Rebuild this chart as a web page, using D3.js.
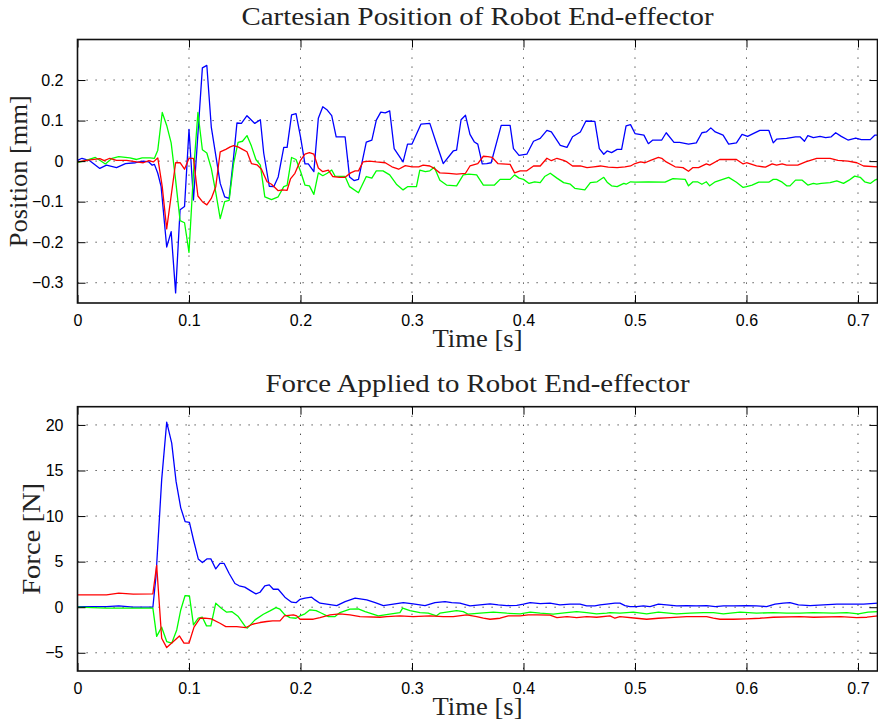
<!DOCTYPE html>
<html>
<head>
<meta charset="utf-8">
<script src="https://cdn.jsdelivr.net/npm/d3@7"></script>
<style>
  html, body { margin: 0; padding: 0; background: #fff; }
  svg { display: block; }
  .tick-label { font-family: "Liberation Sans", Arial, sans-serif; font-size: 16px; fill: #000; }
  .serif { font-family: "Liberation Serif", "Times New Roman", serif; fill: #222; }
</style>
</head>
<body>
<svg id="chart" width="878" height="721"></svg>
<script>
// End-effector position (mm) per Cartesian axis: [time s, value]
const posX = [
  [0,0.002],[0.004,0.007],[0.011,0.001],[0.020,-0.018],[0.026,-0.010],[0.035,-0.016],[0.043,-0.006],
  [0.052,-0.004],[0.059,0],[0.064,-0.002],[0.067,-0.010],[0.069,-0.008],[0.072,-0.030],[0.075,-0.063],
  [0.080,-0.212],[0.084,-0.174],[0.088,-0.325],[0.092,-0.120],[0.096,-0.112],[0.100,0.078],[0.104,-0.096],
  [0.112,0.230],[0.116,0.236],[0.120,0.084],[0.128,-0.055],[0.132,-0.088],[0.136,-0.092],[0.140,0.010],
  [0.143,0.094],[0.147,0.093],[0.152,0.112],[0.159,0.093],[0.164,0.102],[0.167,0.020],[0.172,-0.062],
  [0.176,-0.063],[0.180,-0.039],[0.185,0.034],[0.188,0.034],[0.192,0.114],[0.196,0.117],[0.200,0.060],
  [0.204,-0.007],[0.207,-0.007],[0.212,-0.026],[0.216,0.106],[0.220,0.134],[0.224,0.126],[0.228,0.112],
  [0.232,0.060],[0.240,0.060],[0.244,-0.039],[0.248,-0.048],[0.252,-0.045],[0.259,0.047],[0.264,0.052],
  [0.268,0.101],[0.272,0.121],[0.276,0.119],[0.280,0.124],[0.284,0.031],[0.292,-0.002],[0.296,0.042],
  [0.300,0.042],[0.308,0.091],[0.316,0.093],[0.322,0.043],[0.328,-0.006],[0.337,0.025],[0.340,0.027],
  [0.344,0.102],[0.348,0.113],[0.352,0.066],[0.356,0.047],[0.359,0.042],[0.363,-0.007],[0.367,-0.006],
  [0.371,-0.004],[0.380,0.088],[0.388,0.088],[0.391,0.031],[0.396,0.014],[0.403,0.017],[0.409,0.049],
  [0.415,0.056],[0.421,0.076],[0.425,0.072],[0.433,0.039],[0.439,0.034],[0.444,0.060],[0.451,0.072],
  [0.456,0.099],[0.464,0.098],[0.468,0.031],[0.472,0.017],[0.475,0.025],[0.479,0.021],[0.484,0.029],
  [0.488,0.029],[0.492,0.087],[0.496,0.090],[0.500,0.068],[0.508,0.064],[0.512,0.043],[0.516,0.052],
  [0.524,0.052],[0.528,0.070],[0.535,0.046],[0.540,0.046],[0.548,0.042],[0.555,0.045],[0.560,0.070],
  [0.564,0.072],[0.568,0.082],[0.572,0.072],[0.579,0.064],[0.584,0.042],[0.591,0.045],[0.596,0.066],
  [0.601,0.061],[0.606,0.068],[0.612,0.076],[0.620,0.076],[0.624,0.045],[0.627,0.054],[0.636,0.056],
  [0.644,0.060],[0.648,0.060],[0.652,0.049],[0.655,0.063],[0.660,0.058],[0.666,0.061],[0.671,0.058],
  [0.676,0.060],[0.680,0.070],[0.685,0.061],[0.691,0.052],[0.698,0.057],[0.703,0.053],[0.711,0.053],
  [0.715,0.064],[0.718,0.064]
];
const posY = [
  [0,-0.004],[0.007,0.001],[0.016,0.009],[0.020,0.002],[0.025,-0.007],[0.031,0.007],[0.037,0.011],
  [0.047,0.008],[0.053,0.004],[0.058,0.008],[0.065,0.008],[0.069,0.007],[0.072,0.027],[0.076,0.120],
  [0.080,0.088],[0.084,0.045],[0.088,-0.047],[0.092,-0.147],[0.096,-0.152],[0.100,-0.225],[0.104,-0.030],
  [0.108,0.120],[0.112,0.028],[0.116,0.020],[0.120,-0.018],[0.124,-0.077],[0.128,-0.142],[0.132,-0.100],
  [0.136,-0.097],[0.140,-0.006],[0.144,0.046],[0.148,0.049],[0.152,0.063],[0.156,0.037],[0.160,0.004],
  [0.164,-0.010],[0.168,-0.088],[0.174,-0.095],[0.180,-0.088],[0.185,-0.063],[0.188,-0.060],[0.192,0.009],
  [0.196,0.004],[0.200,-0.025],[0.204,-0.059],[0.208,-0.061],[0.212,-0.082],[0.216,-0.029],[0.220,-0.036],
  [0.224,-0.030],[0.228,-0.022],[0.231,-0.037],[0.240,-0.038],[0.244,-0.063],[0.252,-0.078],[0.259,-0.038],
  [0.264,-0.042],[0.268,-0.024],[0.274,-0.024],[0.280,-0.034],[0.286,-0.057],[0.292,-0.071],[0.296,-0.063],
  [0.304,-0.063],[0.307,-0.022],[0.312,-0.026],[0.316,-0.024],[0.320,-0.015],[0.325,-0.047],[0.331,-0.059],
  [0.340,-0.061],[0.346,-0.034],[0.351,-0.032],[0.358,-0.034],[0.364,-0.059],[0.374,-0.059],[0.379,-0.045],
  [0.388,-0.045],[0.392,-0.034],[0.396,-0.042],[0.400,-0.045],[0.405,-0.055],[0.410,-0.051],[0.415,-0.053],
  [0.419,-0.038],[0.424,-0.030],[0.430,-0.042],[0.436,-0.053],[0.442,-0.057],[0.446,-0.067],[0.455,-0.071],
  [0.460,-0.053],[0.466,-0.051],[0.472,-0.040],[0.475,-0.052],[0.479,-0.061],[0.484,-0.063],[0.490,-0.055],
  [0.492,-0.057],[0.496,-0.051],[0.500,-0.052],[0.512,-0.051],[0.527,-0.052],[0.534,-0.043],[0.545,-0.045],
  [0.548,-0.061],[0.552,-0.051],[0.556,-0.051],[0.560,-0.057],[0.564,-0.051],[0.567,-0.061],[0.572,-0.051],
  [0.584,-0.040],[0.591,-0.052],[0.597,-0.065],[0.600,-0.063],[0.605,-0.059],[0.611,-0.052],[0.620,-0.052],
  [0.624,-0.045],[0.627,-0.045],[0.632,-0.052],[0.636,-0.061],[0.639,-0.061],[0.644,-0.047],[0.650,-0.047],
  [0.655,-0.059],[0.660,-0.055],[0.663,-0.057],[0.667,-0.055],[0.675,-0.053],[0.681,-0.049],[0.687,-0.055],
  [0.692,-0.047],[0.697,-0.037],[0.702,-0.040],[0.706,-0.051],[0.711,-0.055],[0.715,-0.047],[0.718,-0.044]
];
const posZ = [
  [0,-0.002],[0.008,0.002],[0.020,0.006],[0.024,0.001],[0.029,0.007],[0.035,0.002],[0.044,0.002],
  [0.053,-0.002],[0.059,-0.004],[0.064,0.001],[0.068,-0.002],[0.072,0.008],[0.076,-0.063],[0.080,-0.167],
  [0.088,-0.004],[0.092,-0.004],[0.096,-0.020],[0.100,0.007],[0.104,0.007],[0.108,-0.086],[0.112,-0.100],
  [0.116,-0.108],[0.120,-0.092],[0.124,-0.063],[0.128,0.023],[0.133,0.029],[0.137,0.035],[0.140,0.038],
  [0.144,0.035],[0.148,0.029],[0.152,0.023],[0.156,-0.006],[0.161,-0.009],[0.165,-0.020],[0.170,-0.051],
  [0.174,-0.057],[0.180,-0.073],[0.184,-0.071],[0.188,-0.072],[0.191,-0.044],[0.195,-0.030],[0.200,0.002],
  [0.204,0.017],[0.208,0.021],[0.212,0.017],[0.216,-0.017],[0.220,-0.026],[0.225,-0.022],[0.229,-0.038],
  [0.235,-0.040],[0.240,-0.040],[0.245,-0.029],[0.249,-0.024],[0.252,-0.024],[0.256,-0.002],[0.262,0],
  [0.268,-0.002],[0.276,-0.004],[0.282,-0.014],[0.288,-0.020],[0.294,-0.011],[0.300,-0.014],[0.306,-0.014],
  [0.310,-0.010],[0.316,-0.012],[0.320,-0.018],[0.325,-0.029],[0.333,-0.030],[0.340,-0.032],[0.348,-0.030],
  [0.352,-0.012],[0.359,-0.006],[0.364,0.012],[0.368,0.011],[0.372,0.009],[0.377,-0.006],[0.388,-0.008],
  [0.392,-0.029],[0.397,-0.024],[0.403,-0.024],[0.409,-0.012],[0.415,-0.012],[0.421,0.007],[0.425,0.001],
  [0.430,0.007],[0.436,0.002],[0.439,-0.002],[0.444,-0.012],[0.451,-0.012],[0.457,-0.016],[0.463,-0.014],
  [0.469,-0.012],[0.476,-0.015],[0.484,-0.016],[0.491,-0.014],[0.496,-0.012],[0.500,-0.006],[0.505,-0.002],
  [0.509,-0.004],[0.514,0.002],[0.521,0.009],[0.524,0.007],[0.528,-0.002],[0.536,-0.014],[0.543,-0.016],
  [0.548,-0.025],[0.552,-0.016],[0.557,-0.016],[0.564,-0.007],[0.567,-0.010],[0.576,0.004],[0.582,0.004],
  [0.591,0.004],[0.597,-0.007],[0.600,-0.004],[0.609,-0.012],[0.617,-0.015],[0.623,-0.007],[0.627,-0.010],
  [0.632,-0.007],[0.636,-0.010],[0.646,-0.010],[0.653,-0.002],[0.663,0.007],[0.675,0.007],[0.682,0.002],
  [0.691,0],[0.699,-0.004],[0.705,-0.012],[0.718,-0.014]
];

// Contact force (N) per Cartesian axis: [time s, value]
const forceX = [
  [0,0.07],[0.026,0.07],[0.037,0.15],[0.050,0],[0.0676,0],[0.0704,3.4],[0.0755,14.0],[0.080,20.3],
  [0.0845,18.0],[0.0884,13.8],[0.0926,10.9],[0.0965,9.4],[0.1004,9.3],[0.104,7.4],[0.1083,5.3],[0.112,4.9],
  [0.116,5.3],[0.1196,5.3],[0.124,4.2],[0.1278,4.8],[0.1315,4.8],[0.136,3.7],[0.1412,2.6],[0.145,2.35],
  [0.150,2.2],[0.1547,1.85],[0.160,1.46],[0.1637,1.64],[0.168,2.34],[0.172,2.45],[0.1756,1.97],[0.180,1.97],
  [0.186,1.1],[0.192,0.55],[0.196,0.5],[0.1996,0.87],[0.204,0.99],[0.210,1.1],[0.213,0.8],[0.2175,0.44],
  [0.2235,0.33],[0.2325,0.18],[0.240,0.62],[0.249,0.99],[0.2594,0.8],[0.267,0.5],[0.2743,0.18],[0.2833,0.33],
  [0.2922,0.5],[0.301,0.36],[0.3117,0.18],[0.3206,0.5],[0.3296,0.62],[0.3356,0.5],[0.343,0.44],[0.352,0.14],
  [0.361,0.25],[0.370,0.36],[0.3774,0.25],[0.385,0.18],[0.394,0.21],[0.400,0.33],[0.406,0.5],[0.415,0.4],
  [0.4238,0.44],[0.4327,0.25],[0.4417,0.33],[0.4507,0.33],[0.4567,0.14],[0.464,0.14],[0.4686,0.25],
  [0.4746,0.33],[0.482,0.44],[0.4865,0.44],[0.491,0.18],[0.4955,0.07],[0.5015,0.07],[0.5075,0.14],
  [0.5135,0.07],[0.521,0.33],[0.5284,0.25],[0.5374,0.14],[0.5463,0.18],[0.555,0.14],[0.5643,0.18],
  [0.572,0.07],[0.5793,0.14],[0.5882,0.14],[0.600,0.18],[0.609,0.14],[0.618,0.07],[0.6256,0.33],
  [0.633,0.44],[0.639,0.5],[0.6465,0.25],[0.657,0.18],[0.669,0.25],[0.681,0.33],[0.6928,0.33],
  [0.705,0.33],[0.718,0.44]
];
const forceY = [
  [0,0],[0.026,-0.1],[0.050,-0.1],[0.0676,-0.1],[0.071,-3.2],[0.0755,-2.19],[0.080,-3.77],[0.0845,-3.95],
  [0.089,-2.49],[0.0926,-0.3],[0.0965,1.28],[0.1004,1.24],[0.104,-1.94],[0.1083,-1.21],[0.112,-1.1],
  [0.1157,-2.05],[0.1196,-2.05],[0.124,0.44],[0.129,-0.11],[0.1338,-0.55],[0.1383,-0.48],[0.1442,-1.03],
  [0.151,-2.2],[0.1523,-2.3],[0.1592,-1.39],[0.1667,-0.77],[0.1726,-0.4],[0.178,-0.04],[0.1816,-0.22],
  [0.186,-0.84],[0.1906,-1.14],[0.196,-1.21],[0.1996,-0.95],[0.204,-0.73],[0.2085,-0.29],[0.214,-0.37],
  [0.219,-0.66],[0.225,-1.03],[0.231,-1.03],[0.2354,-0.59],[0.2444,-0.22],[0.2518,-0.18],[0.258,-0.48],
  [0.2698,-0.95],[0.280,-0.77],[0.2892,-0.59],[0.2916,-0.11],[0.2982,-0.37],[0.3072,-0.59],[0.3146,-0.66],
  [0.322,-0.95],[0.325,-0.66],[0.334,-0.48],[0.340,-0.37],[0.346,-0.48],[0.3505,-0.77],[0.361,-0.66],
  [0.373,-0.55],[0.385,-0.66],[0.397,-0.73],[0.406,-0.55],[0.415,-0.66],[0.4267,-0.77],[0.4387,-0.59],
  [0.4477,-0.48],[0.4567,-0.59],[0.4656,-0.73],[0.4746,-0.66],[0.4776,-0.59],[0.4865,-0.66],[0.4985,-0.55],
  [0.5105,-0.73],[0.521,-0.55],[0.5374,-0.73],[0.5493,-0.66],[0.5613,-0.59],[0.5703,-0.59],[0.5793,-0.73],
  [0.5942,-0.55],[0.609,-0.66],[0.624,-0.59],[0.636,-0.66],[0.648,-0.66],[0.660,-0.59],[0.678,-0.66],
  [0.690,-0.59],[0.7003,-0.73],[0.709,-0.55],[0.718,-0.48]
];
const forceZ = [
  [0,1.35],[0.026,1.35],[0.037,1.54],[0.050,1.43],[0.0676,1.46],[0.071,4.6],[0.0755,-3.4],[0.080,-4.43],
  [0.086,-3.77],[0.0914,-3.15],[0.0955,-3.95],[0.100,-3.95],[0.1045,-2.19],[0.110,-1.21],[0.1143,-1.2],
  [0.120,-1.28],[0.1278,-1.76],[0.133,-2.13],[0.1428,-2.13],[0.151,-2.23],[0.157,-1.87],[0.1637,-1.68],
  [0.1697,-1.57],[0.175,-1.5],[0.1816,-1.5],[0.1855,-0.95],[0.1936,-0.84],[0.1966,-0.95],[0.1996,-1.32],
  [0.2115,-1.32],[0.2175,-1.14],[0.2265,-0.84],[0.2354,-0.73],[0.2444,-0.84],[0.2534,-1.03],[0.2713,-1.1],
  [0.2773,-1.03],[0.2892,-0.95],[0.301,-1.03],[0.316,-0.95],[0.328,-1.03],[0.337,-1.03],[0.349,-0.84],
  [0.358,-1.03],[0.364,-1.21],[0.370,-1.32],[0.379,-1.21],[0.3864,-0.95],[0.397,-0.95],[0.4043,-0.84],
  [0.412,-0.84],[0.4238,-0.88],[0.430,-1.14],[0.439,-1.03],[0.4477,-1.14],[0.4567,-1.03],[0.4656,-1.1],
  [0.4776,-0.95],[0.482,-1.21],[0.4865,-1.03],[0.5015,-1.21],[0.5105,-1.32],[0.521,-1.21],[0.5314,-1.14],
  [0.5463,-1.03],[0.5643,-1.03],[0.5703,-1.21],[0.5762,-1.32],[0.5882,-1.32],[0.600,-1.28],[0.612,-1.21],
  [0.624,-1.1],[0.648,-1.03],[0.660,-1.1],[0.6844,-1.03],[0.6988,-1.14],[0.708,-1.1],[0.718,-0.95]
];

const timeTicks = [0, 0.1, 0.2, 0.3, 0.4, 0.5, 0.6, 0.7];
const posTicks = [-0.3, -0.2, -0.1, 0, 0.1, 0.2];
const forceTicks = [-5, 0, 5, 10, 15, 20];

const panels = [
  {
    title: "Cartesian Position of Robot End-effector", titleLen: 472,
    ylabel: "Position [mm]", ylabelLen: 152,
    top: 39.5, bottom: 303,
    ydomain: [-0.35, 0.3], yticks: posTicks,
    series: [[posX, "#0000ff"], [posY, "#00ff00"], [posZ, "#ff0000"]],
    ylabelX: 27
  },
  {
    title: "Force Applied to Robot End-effector", titleLen: 424,
    ylabel: "Force [N]", ylabelLen: 112,
    top: 406.7, bottom: 671,
    ydomain: [-7, 22], yticks: forceTicks,
    series: [[forceX, "#0000ff"], [forceY, "#00ff00"], [forceZ, "#ff0000"]],
    ylabelX: 40
  }
];

const svg = d3.select("#chart");
const left = 77.5, right = 877.5;
const x = d3.scaleLinear().domain([0, 0.7175]).range([left, right]);
const fmtTick = v => (v < 0 ? "\u2212" : "") + String(Math.abs(+v.toFixed(2)));

panels.forEach(p => {
  const y = d3.scaleLinear().domain(p.ydomain).range([p.bottom, p.top]);
  const g = svg.append("g");
  const cx = (left + right) / 2;

  // dotted grid
  g.append("g").selectAll("line").data(timeTicks.filter(t => t > 0)).join("line")
    .attr("x1", d => x(d)).attr("x2", d => x(d))
    .attr("y1", p.top).attr("y2", p.bottom)
    .attr("stroke", "#333").attr("stroke-width", 1).attr("stroke-dasharray", "1.2,7.8");
  g.append("g").selectAll("line").data(p.yticks).join("line")
    .attr("x1", left).attr("x2", right)
    .attr("y1", d => y(d)).attr("y2", d => y(d))
    .attr("stroke", "#333").attr("stroke-width", 1).attr("stroke-dasharray", "1.2,7.8");

  // traces
  const line = d3.line().x(d => x(d[0])).y(d => y(d[1]));
  g.append("defs").append("clipPath").attr("id", "clip" + p.top)
    .append("rect").attr("x", left).attr("y", p.top).attr("width", right - left).attr("height", p.bottom - p.top);
  const traces = g.append("g").attr("clip-path", `url(#clip${p.top})`);
  p.series.forEach(([data, color]) => {
    traces.append("path").datum(data).attr("d", line)
      .attr("fill", "none").attr("stroke", color).attr("stroke-width", 1.3)
      .attr("stroke-linejoin", "round");
  });

  // axes with inward ticks on all four sides
  const tickLen = 8;
  g.append("g").attr("transform", `translate(0,${p.bottom})`)
    .call(d3.axisBottom(x).tickValues(timeTicks).tickSizeInner(-tickLen).tickSizeOuter(0).tickPadding(12).tickFormat(fmtTick));
  g.append("g").attr("transform", `translate(0,${p.top})`)
    .call(d3.axisTop(x).tickValues(timeTicks).tickSizeInner(-tickLen).tickSizeOuter(0).tickFormat(""));
  g.append("g").attr("transform", `translate(${left},0)`)
    .call(d3.axisLeft(y).tickValues(p.yticks).tickSizeInner(-tickLen).tickSizeOuter(0).tickPadding(14).tickFormat(fmtTick));
  g.append("g").attr("transform", `translate(${right},0)`)
    .call(d3.axisRight(y).tickValues(p.yticks).tickSizeInner(-tickLen).tickSizeOuter(0).tickFormat(""));
  g.selectAll(".domain").remove();
  g.selectAll(".tick line").attr("stroke", "#000").attr("stroke-width", 1);
  g.selectAll(".tick text").attr("class", "tick-label").attr("font-family", null).attr("font-size", null);

  // frame
  g.append("rect").attr("x", left).attr("y", p.top).attr("width", right - left).attr("height", p.bottom - p.top)
    .attr("fill", "none").attr("stroke", "#111").attr("stroke-width", 1.6);

  // titles and labels
  g.append("text").attr("class", "serif").attr("x", cx).attr("y", p.top - 15)
    .attr("text-anchor", "middle").attr("font-size", 25)
    .attr("textLength", p.titleLen).attr("lengthAdjust", "spacingAndGlyphs").text(p.title);
  g.append("text").attr("class", "serif").attr("x", cx).attr("y", p.bottom + 44)
    .attr("text-anchor", "middle").attr("font-size", 25)
    .attr("textLength", 90).attr("lengthAdjust", "spacingAndGlyphs").text("Time [s]");
  g.append("text").attr("class", "serif")
    .attr("transform", `translate(${p.ylabelX},${(p.top + p.bottom) / 2}) rotate(-90)`)
    .attr("text-anchor", "middle").attr("font-size", 25)
    .attr("textLength", p.ylabelLen).attr("lengthAdjust", "spacingAndGlyphs").text(p.ylabel);
});
</script>
</body>
</html>
